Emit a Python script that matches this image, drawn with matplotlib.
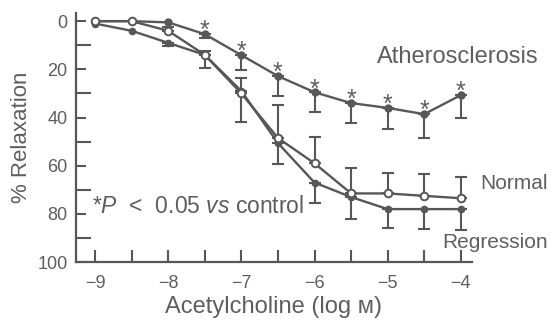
#!/usr/bin/env python3

import numpy as np
import matplotlib
matplotlib.use('Agg')
import matplotlib.pyplot as plt
from matplotlib.ticker import MultipleLocator

plt.rcParams['font.family'] = ['Liberation Sans', 'DejaVu Sans']
plt.rcParams['mathtext.fontset'] = 'custom'
plt.rcParams['mathtext.rm'] = 'Liberation Sans'
plt.rcParams['mathtext.it'] = 'Liberation Sans:italic'

# log M acetylcholine
ach = [-9, -8.5, -8, -7.5, -7, -6.5, -6, -5.5, -5, -4.5, -4]

athero = [0, 0, 0.5, 5.4, 14.1, 22.8, 29.5, 34, 36, 38.6, 30.7]
athero_err = [0, 0, 0, 1.6, 6.3, 8.2, 8.3, 8.3, 8.8, 9.9, 9.3]
athero_sig = [False, False, False, True, True, True, True, True, True, True, True]

normal = [0, 0, 4, 14, 30, 48.5, 59, 71.5, 71.5, 72.5, 73.5]
normal_err = [0, 0, 1.5, 1.5, 6.4, 13.5, 11, 10.5, 8.5, 9, 8.7]

regression = [1, 4, 9, 14, 29, 50.6, 67, 73, 78, 78, 78]
regression_err = [0, 0, 1.5, 5.5, 13, 8.5, 8.5, 9, 8, 8.3, 8.7]

grey = '#575757'
txt = '#5e5e5e'

fig = plt.figure(figsize=(5.59, 3.22), dpi=100)
ax = fig.add_axes([0.136, 0.186, 0.708, 0.773])

x = np.array(ach)


def bars(vals, errs, down):
    v = np.array(vals)
    e = np.array(errs)
    keep = e > 0
    z = np.zeros(keep.sum())
    yerr = [z, e[keep]] if down else [e[keep], z]
    ax.errorbar(x[keep], v[keep], yerr=yerr, fmt='none', ecolor=grey,
                elinewidth=1.5, capsize=4.5, capthick=1.5, zorder=2)


bars(athero, athero_err, True)
bars(normal, normal_err, False)
bars(regression, regression_err, True)

ax.plot(x, athero, color=grey, lw=1.7, marker='o', ms=5, mfc=grey, mec=grey, zorder=3)
ax.plot(x, regression, color=grey, lw=1.7, marker='o', ms=4.5, mfc=grey, mec=grey, zorder=3)
ax.plot(x, normal, color=grey, lw=1.7, marker='o', ms=5.5, mfc='white', mec=grey,
        mew=1.4, zorder=4)

for xi, yi, s in zip(ach, athero, athero_sig):
    if s:
        ax.annotate('*', (xi, yi), xytext=(0, -3), textcoords='offset points',
                    ha='center', va='baseline', fontsize=18, color=txt)

ax.set_xlim(-9.26, -3.85)
ax.set_ylim(100, -3.3)

ax.spines['top'].set_visible(False)
ax.spines['right'].set_visible(False)
for s in ['left', 'bottom']:
    ax.spines[s].set_color(grey)
    ax.spines[s].set_linewidth(1.6)

ax.set_xticks([-9, -8, -7, -6, -5, -4])
ax.xaxis.set_minor_locator(MultipleLocator(0.5))
ax.set_yticks([0, 20, 40, 60, 80, 100])
ax.yaxis.set_minor_locator(MultipleLocator(10))
ax.tick_params(axis='x', which='both', direction='in', length=9, width=1.5,
               color=grey, labelsize=13, labelcolor=txt, pad=9)
ax.tick_params(axis='y', which='major', direction='in', length=7, width=1.5,
               color=grey, labelsize=13, labelcolor=txt, pad=6)
ax.tick_params(axis='y', which='minor', direction='in', length=11, width=1.5,
               color=grey)

ax.set_xlabel('Acetylcholine (log \u043c)', fontsize=17, color=txt, labelpad=3)
ax.set_ylabel('% Relaxation', fontsize=16, color=txt, labelpad=4)

ax.text(-5.15, 15, 'Atherosclerosis', fontsize=17, color=txt, va='center', ha='left')
ax.text(-3.74, 67.5, 'Normal', fontsize=15, color=txt, va='center', ha='left', clip_on=False)
ax.text(-4.26, 92, 'Regression', fontsize=15, color=txt, va='center', ha='left', clip_on=False)
ax.text(-9.04, 77, r'*$\mathit{P}$  <  0.05 $\mathit{vs}$ control', fontsize=16.5,
        color=txt, va='center', ha='left')

fig.savefig('out.png', dpi=100)
